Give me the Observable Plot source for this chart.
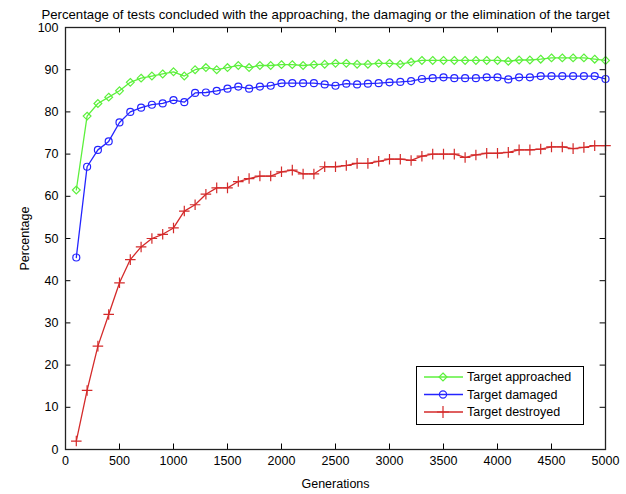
<!DOCTYPE html>
<html>
<head>
<meta charset="utf-8">
<script src="https://cdn.jsdelivr.net/npm/d3@7"></script>
<script src="https://cdn.jsdelivr.net/npm/@observablehq/plot@0.6"></script>
<style>
html,body{margin:0;padding:0;background:#fff;}
#chart svg{display:block;}
</style>
</head>
<body>
<div id="chart"></div>
<script>
const generations = d3.range(100, 5001, 100);
const approached = [61.5,79,82,83.5,85,87,88,88.5,89,89.5,88.5,90,90.5,90,90.5,91,90.5,91,91,91.2,91.2,91,91.2,91.3,91.5,91.5,91.3,91.3,91.5,91.5,91.3,91.8,92.2,92.2,92.2,92.2,92.2,92.2,92.2,92.2,92,92.3,92.3,92.5,92.8,92.8,92.8,92.8,92.5,92.2];
const damaged = [45.5,67,71,73,77.5,80,81,81.7,82,82.8,82.3,84.5,84.6,85,85.5,86,85.5,86,86.2,86.8,86.8,86.8,86.8,86.5,86.2,86.7,86.5,86.7,86.8,87,87.1,87.3,87.8,88,88.2,88,88,88,88.2,88.2,87.7,88.2,88.2,88.5,88.5,88.5,88.5,88.5,88.5,87.8];
const destroyed = [2,14,24.5,32,39.5,45,48,50,51,52.5,56.5,58,60.5,62,62,63.5,64.2,64.8,64.8,65.8,66.2,65.3,65.3,67,67,67.3,67.8,67.8,68.3,68.8,68.8,68.5,69.5,70,70,70,69.2,69.8,70.2,70.2,70.4,71,71,71.2,71.7,71.7,71.3,71.6,72,72];
const seriesNames = ["Target approached","Target damaged","Target destroyed"];
const seriesColors = ["#5cf03c","#2424ff","#d42a2a"];
const seriesSymbols = ["diamond2","circle","plus"];
const xTicks = d3.range(0, 5001, 500);
const yTicks = d3.range(0, 101, 10);
const title = "Percentage of tests concluded with the approaching, the damaging or the elimination of the target";

const rows = [];
[approached, damaged, destroyed].forEach((vals, s) => {
  vals.forEach((v, i) => rows.push({series: seriesNames[s], x: generations[i], y: v}));
});

const font = "'Liberation Sans', Arial, Helvetica, sans-serif";

const plot = Plot.plot({
  width: 626,
  height: 494,
  marginLeft: 65,
  marginRight: 21,
  marginTop: 27,
  marginBottom: 45,
  style: {fontFamily: font, fontSize: "12px", color: "#000", background: "#fff"},
  x: {domain: [0, 5000]},
  y: {domain: [0, 100]},
  color: {domain: seriesNames, range: seriesColors},
  symbol: {domain: seriesNames, range: seriesSymbols},
  marks: [
    Plot.axisX(xTicks, {tickSize: 0, tickPadding: 7, tickFormat: d => String(d), label: "Generations", labelAnchor: "center", labelArrow: "none", labelOffset: 38, fontSize: 12.5}),
    Plot.axisY(yTicks, {tickSize: 0, tickPadding: 7, tickFormat: d => String(d), label: "Percentage", labelAnchor: "center", labelArrow: "none", labelOffset: 45, fontSize: 12.5}),
    Plot.ruleX(xTicks, {x: d => d, y1: 0, y2: 1.3, stroke: "#000", strokeWidth: 1}),
    Plot.ruleX(xTicks, {x: d => d, y1: 100, y2: 98.7, stroke: "#000", strokeWidth: 1}),
    Plot.ruleY(yTicks, {y: d => d, x1: 0, x2: 50, stroke: "#000", strokeWidth: 1}),
    Plot.ruleY(yTicks, {y: d => d, x1: 5000, x2: 4950, stroke: "#000", strokeWidth: 1}),
    Plot.line(rows, {x: "x", y: "y", z: "series", stroke: "series", strokeWidth: 1.3}),
    Plot.dot(rows, {x: "x", y: "y", stroke: "series", symbol: "series", fill: "none", r: 3.5, strokeWidth: 1.2}),
    Plot.frame({stroke: "#222", strokeWidth: 1.3}),
    Plot.text([title], {frameAnchor: "top", dy: -18, dx: -10, fontSize: 13.2, fill: "#000"})
  ]
});

// legend box
const svg = d3.select(plot);
const lg = svg.append("g").attr("font-family", font).attr("font-size", 12.5).attr("text-anchor", "start");
lg.append("rect").attr("x", 416.5).attr("y", 366.5).attr("width", 167).attr("height", 58)
  .attr("fill", "#fff").attr("stroke", "#000").attr("stroke-width", 1);
seriesNames.forEach((name, i) => {
  const yy = 377 + i * 17.5;
  lg.append("line").attr("x1", 424).attr("x2", 463).attr("y1", yy).attr("y2", yy)
    .attr("stroke", seriesColors[i]).attr("stroke-width", 1.3);
  const sym = [d3.symbolDiamond2, d3.symbolCircle, d3.symbolPlus][i];
  lg.append("path").attr("d", d3.symbol(sym, [40, 40, 50][i])())
    .attr("transform", `translate(443,${yy})`)
    .attr("fill", "none").attr("stroke", seriesColors[i]).attr("stroke-width", 1.2);
  lg.append("text").attr("x", 467).attr("y", yy).attr("dy", "0.35em").attr("text-anchor", "start").text(name).attr("fill", "#000");
});

document.getElementById("chart").appendChild(plot);
</script>
</body>
</html>
